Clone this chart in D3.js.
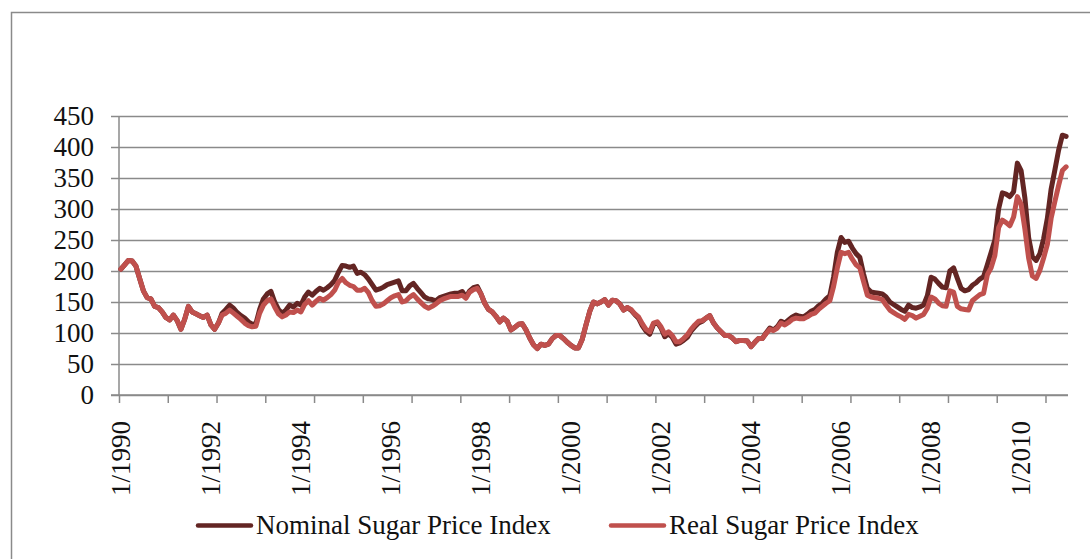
<!DOCTYPE html>
<html lang="en">
<head>
<meta charset="UTF-8">
<title>Sugar Price Index</title>
<script src="https://d3js.org/d3.v7.min.js"></script>
<style>
  body { margin: 0; background: #fff; }
  text { font-family: "Liberation Serif", "Times New Roman", serif; fill: #111; }
</style>
</head>
<body>
<svg id="chart" width="1090" height="559"></svg>
<script>
// monthly index values, 1/1990 .. 1/2011
var nominal = [
  203, 210, 217, 216, 208, 188, 168, 157, 155, 143, 141, 134,   // 1990
  125, 121, 129, 120, 106, 122, 143, 134, 131, 128, 125, 129,   // 1991
  113, 106, 116, 132, 138, 145, 140, 133, 128, 124, 118, 114,   // 1992
  115, 138, 155, 163, 167, 150, 138, 132, 137, 145, 142, 148,   // 1993
  145, 158, 166, 161, 167, 172, 169, 173, 178, 185, 198, 209,   // 1994
  208, 206, 208, 196, 198, 194, 187, 178, 169, 171, 174, 178,   // 1995
  180, 182, 184, 168, 168, 176, 180, 172, 165, 158, 155, 154,   // 1996
  152, 157, 159, 161, 163, 164, 164, 167, 158, 168, 173, 175,   // 1997
  163, 148, 138, 134, 127, 118, 124, 119, 105, 109, 114, 115,   // 1998
  105, 92, 81, 75, 82, 80, 82, 91, 96, 96, 91, 85,             // 1999
  80, 76, 76, 90, 113, 135, 150, 147, 150, 154, 145, 153,       // 2000
  152, 147, 137, 141, 137, 130, 124, 112, 103, 98, 114, 117,    // 2001
  108, 94, 99, 93, 82, 84, 88, 93, 103, 110, 116, 119,          // 2002
  124, 128, 116, 108, 102, 96, 96, 92, 86, 88, 88, 87,          // 2003
  78, 85, 91, 91, 100, 108, 105, 110, 119, 116, 121, 126,       // 2004
  129, 127, 126, 130, 135, 138, 144, 148, 155, 160, 190, 230,   // 2005
  254, 246, 248, 237, 228, 222, 195, 172, 166, 165, 164, 163,   // 2006
  158, 150, 146, 142, 138, 135, 145, 141, 140, 142, 145, 160,   // 2007
  190, 187, 180, 174, 173, 200, 205, 188, 172, 168, 170, 177,   // 2008
  181, 187, 191, 210, 230, 250, 300, 326, 324, 320, 328, 374,   // 2009
  362, 318, 254, 223, 217, 228, 252, 285, 332, 363, 395, 419,   // 2010
  417                                                           // 2011
];
var real = [
  203, 210, 217, 216, 208, 188, 168, 157, 155, 143, 141, 134,
  125, 121, 129, 120, 106, 122, 143, 134, 131, 128, 125, 129,
  113, 106, 116, 129, 132, 137, 132, 127, 122, 116, 112, 110,
  111, 132, 145, 152, 155, 142, 131, 126, 129, 134, 133, 137,
  134, 146, 152, 145, 151, 156, 153, 157, 162, 169, 182, 188,
  181, 177, 175, 169, 169, 172, 165, 152, 143, 144, 147, 152,
  157, 160, 162, 150, 152, 158, 162, 155, 149, 143, 140, 143,
  147, 152, 155, 157, 159, 159, 159, 161, 156, 166, 170, 172,
  163, 148, 138, 134, 127, 118, 124, 119, 105, 109, 114, 115,
  105, 92, 81, 75, 82, 80, 82, 91, 96, 96, 91, 85,
  80, 76, 76, 90, 113, 135, 150, 147, 150, 154, 145, 153,
  152, 147, 137, 141, 138, 131, 126, 115, 106, 102, 116, 118,
  110, 98, 102, 96, 86, 86, 91, 97, 106, 113, 119, 120,
  124, 128, 116, 108, 102, 96, 96, 92, 86, 88, 88, 87,
  78, 85, 91, 91, 99, 106, 104, 108, 116, 113, 117, 122,
  124, 123, 123, 126, 130, 132, 138, 143, 148, 152, 175, 205,
  230, 228, 230, 219, 210, 205, 183, 161, 158, 157, 156, 154,
  145, 137, 133, 129, 126, 122, 130, 128, 124, 127, 130, 140,
  158, 155, 148, 144, 143, 168, 166, 143, 139, 138, 137, 152,
  157, 162, 164, 194, 205, 225, 270, 282, 278, 273, 287, 320,
  308, 268, 221, 192, 188, 201, 221, 243, 285, 312, 338, 362,
  368
];
var xLabels = ["1/1990", "1/1992", "1/1994", "1/1996", "1/1998", "1/2000",
               "1/2002", "1/2004", "1/2006", "1/2008", "1/2010"];
var yTicks = [0, 50, 100, 150, 200, 250, 300, 350, 400, 450];
var seriesNames = ["Nominal Sugar Price Index", "Real Sugar Price Index"];
var colors = ["#632523", "#c0504d"];

var svg = d3.select("#chart");
var plotLeft = 119, plotRight = 1068, plotTop = 116, plotBottom = 395;
var n = nominal.length;

// category axis: each month is one slot, points sit in the middle of it
var x = d3.scaleLinear().domain([0, n]).range([plotLeft, plotRight]);
var y = d3.scaleLinear().domain([0, 450]).range([plotBottom, plotTop]);

// outer frame (cut by the window on right / bottom)
svg.append("rect")
  .attr("x", 11.5).attr("y", 12.5)
  .attr("width", 1100).attr("height", 600)
  .attr("fill", "none").attr("stroke", "#8a8a8a").attr("stroke-width", 1.5);

// gridlines + y labels
var yAxis = svg.append("g")
  .attr("transform", "translate(" + plotLeft + ",0)")
  .call(d3.axisLeft(y).tickValues(yTicks).tickSize(-(plotRight - plotLeft)).tickPadding(25));
yAxis.select(".domain").remove();
yAxis.selectAll(".tick line")
  .attr("x1", -8)
  .attr("stroke", "#8a8a8a").attr("stroke-width", 1.5);
yAxis.selectAll(".tick text")
  .attr("font-size", 27).attr("font-family", "Liberation Serif").attr("fill", "#111")
  .attr("dy", "0.33em");

// y axis line
svg.append("line")
  .attr("x1", plotLeft).attr("x2", plotLeft).attr("y1", plotTop).attr("y2", plotBottom)
  .attr("stroke", "#8a8a8a").attr("stroke-width", 1.5);

// x axis with tick marks every 13 months
var xAxis = svg.append("g")
  .attr("transform", "translate(0," + plotBottom + ")")
  .call(d3.axisBottom(x).tickValues(d3.range(0, n, 13)).tickSize(8).tickFormat(""));
xAxis.select(".domain").attr("d", "M" + (plotLeft - 8) + ",0H" + plotRight)
  .attr("stroke", "#8a8a8a").attr("stroke-width", 1.5);
xAxis.selectAll(".tick line").attr("stroke", "#8a8a8a").attr("stroke-width", 1.5);

// rotated labels every 24 months
svg.append("g").selectAll("text")
  .data(xLabels)
  .enter().append("text")
  .attr("transform", function (d, i) {
    return "translate(" + x(i * 24 + 0.5) + ",421) rotate(-90)";
  })
  .attr("text-anchor", "end")
  .attr("dy", "0.34em")
  .attr("font-size", 27)
  .text(function (d) { return d; });

// lines
var line = d3.line()
  .x(function (d, i) { return x(i + 0.5); })
  .y(function (d) { return y(d); })
  .curve(d3.curveLinear);

[nominal, real].forEach(function (s, k) {
  svg.append("path")
    .datum(s)
    .attr("d", line)
    .attr("fill", "none")
    .attr("stroke", colors[k])
    .attr("stroke-width", 5)
    .attr("stroke-linejoin", "round")
    .attr("stroke-linecap", "round");
});

// legend
var legendX = [198, 611];
var legend = svg.append("g").selectAll("g")
  .data(seriesNames)
  .enter().append("g")
  .attr("transform", function (d, i) { return "translate(" + legendX[i] + ",525.5)"; });
legend.append("line")
  .attr("x1", 0).attr("x2", 53)
  .attr("stroke", function (d, i) { return colors[i]; })
  .attr("stroke-width", 4.5)
  .attr("stroke-linecap", "round");
legend.append("text")
  .attr("x", 58)
  .attr("dy", "0.33em")
  .attr("font-size", 27)
  .text(function (d) { return d; });
</script>
</body>
</html>
